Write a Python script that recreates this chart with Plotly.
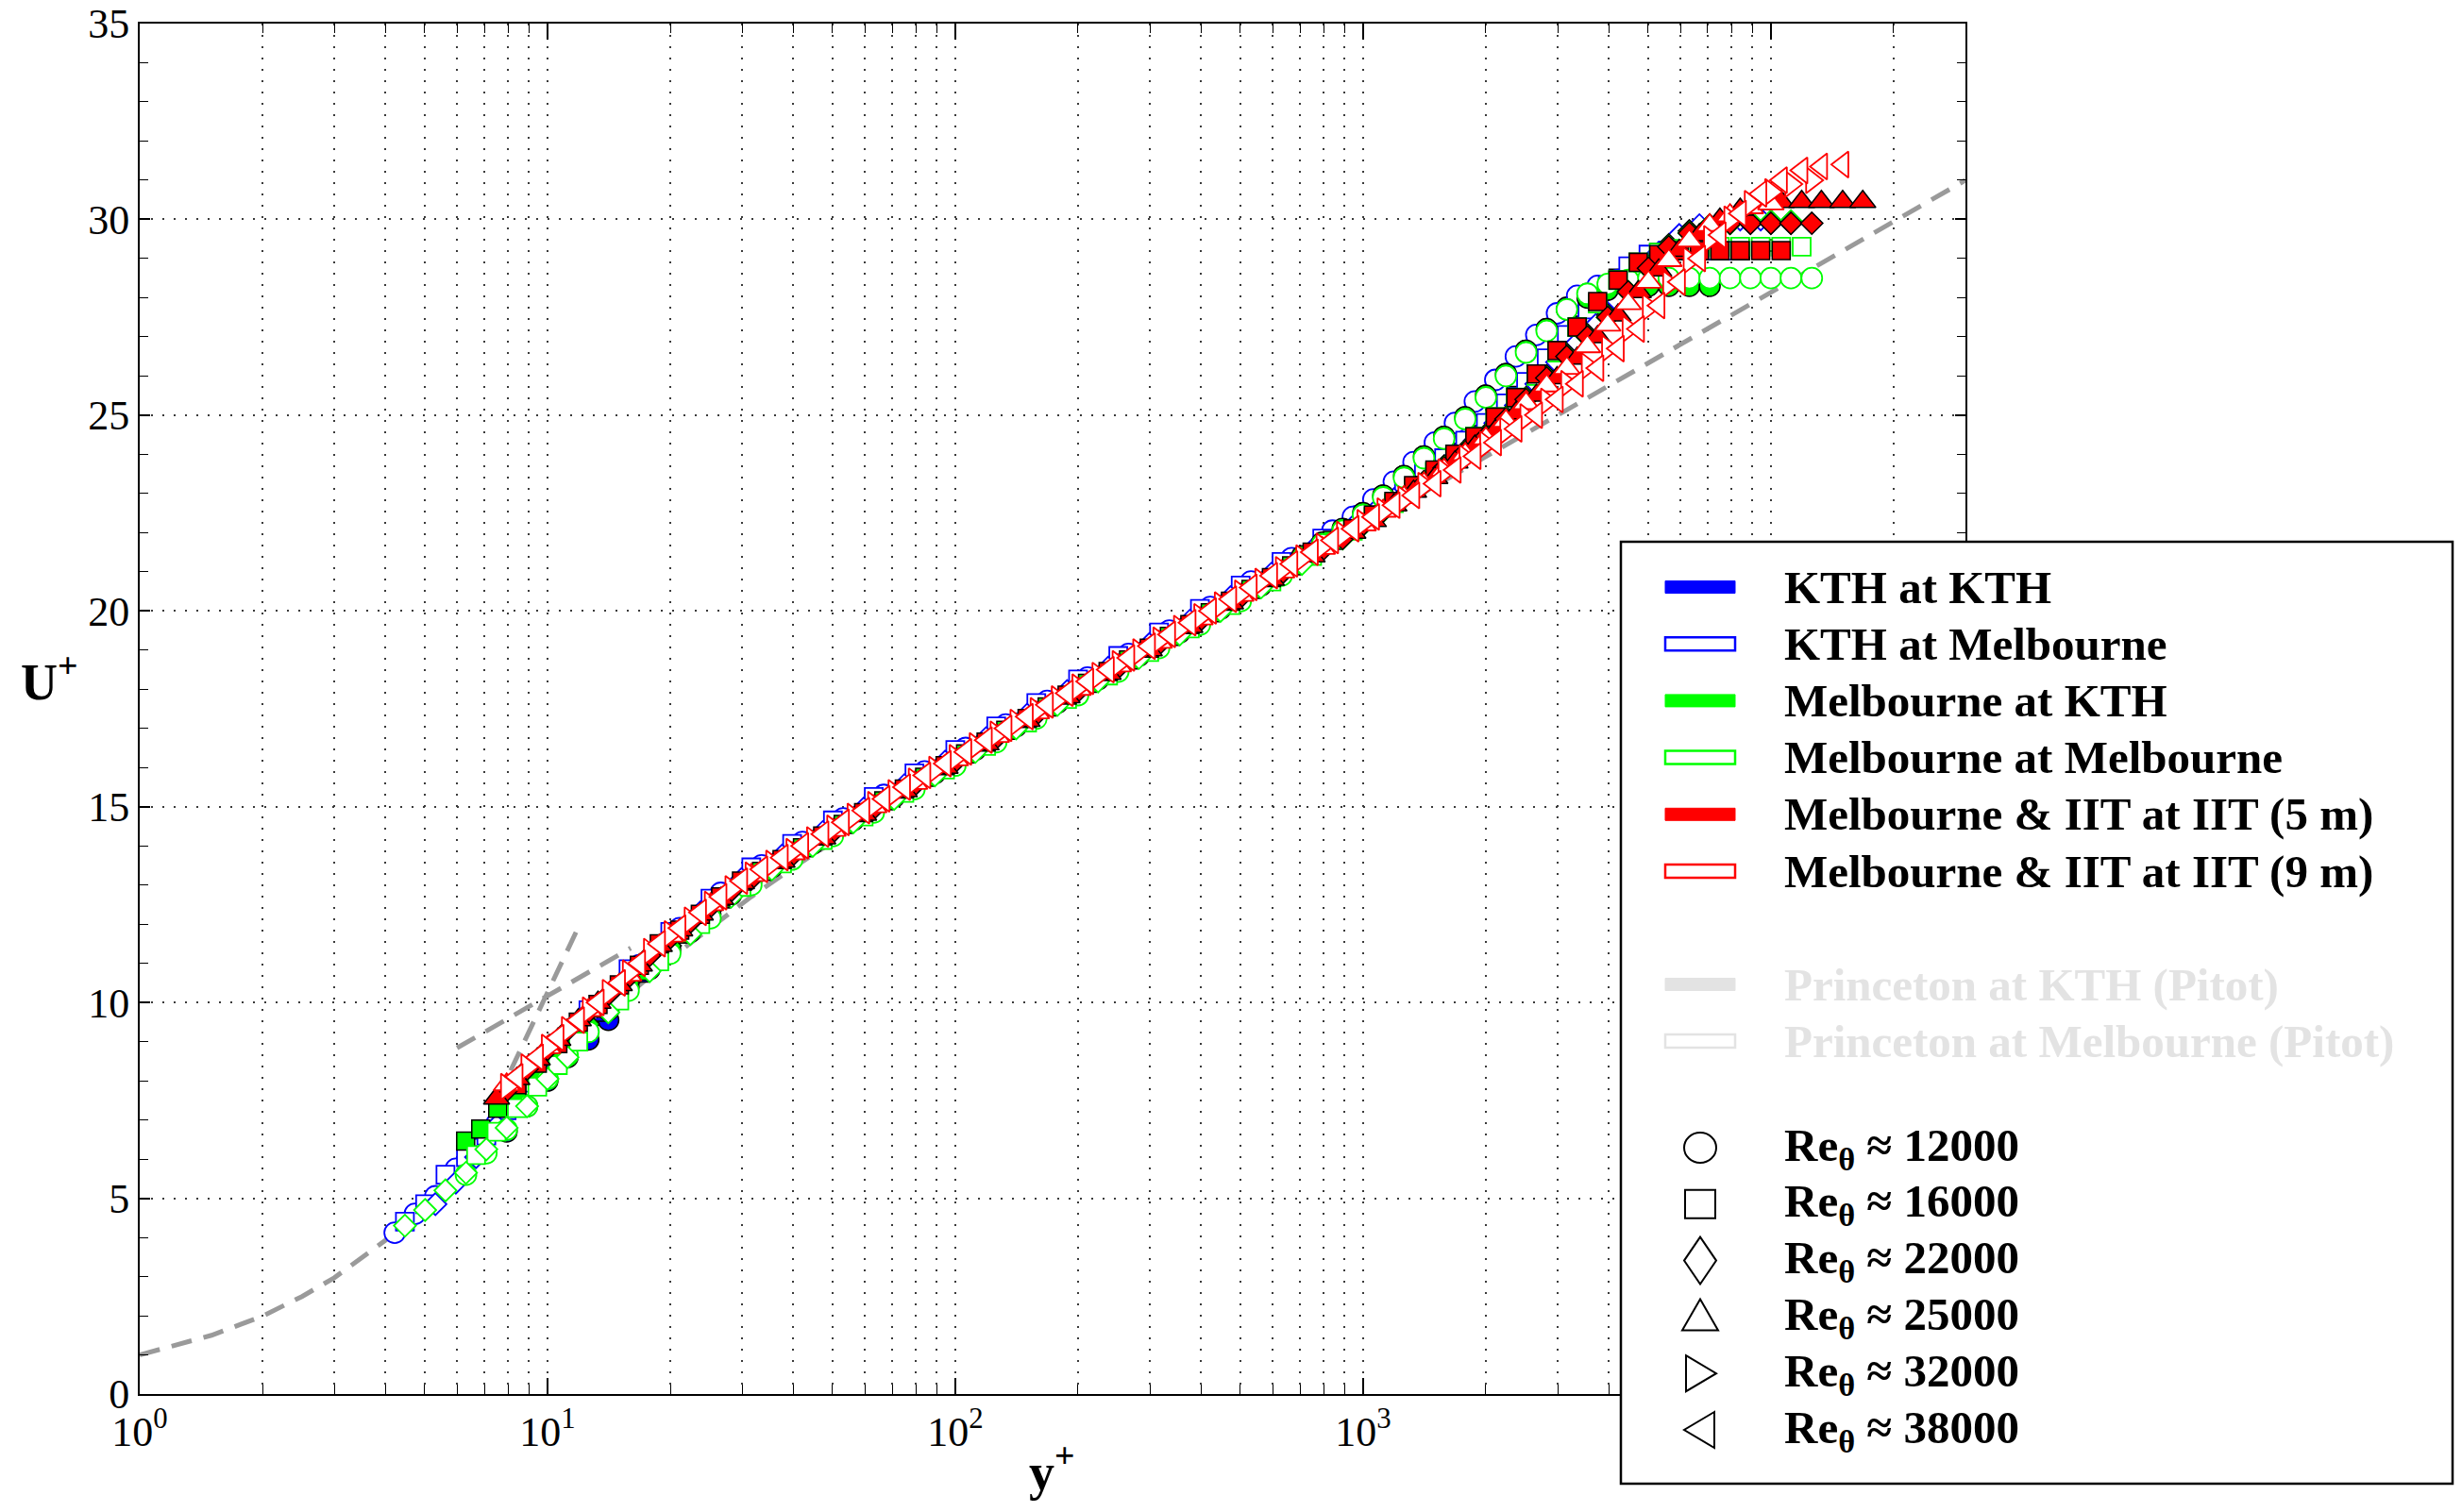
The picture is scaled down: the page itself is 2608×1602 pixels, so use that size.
import math
import plotly.graph_objects as go

# ---------------- reference curves ----------------
COMPOSITE_Y = [1, 1.5, 2, 2.5, 3, 4, 5, 6.3, 8, 10, 12.6, 15.8, 20, 25, 31.6, 40, 50, 63, 79, 100,
               200, 500, 1000, 3000, 10000, 30000]
COMPOSITE_U = [1.0, 1.5, 1.99, 2.49, 2.97, 3.92, 4.85, 5.92, 7.08, 8.1, 9.25, 10.2, 11.12, 11.9, 12.7,
               13.44, 14.11, 14.78, 15.42, 16.09, 17.94, 20.33, 22.14, 25.02, 28.15, 31.0]
SUBLAYER_Y = [7.5, 12.0]
SUBLAYER_U = [7.5, 12.0]
LOGLAW_Y = [6.0, 16.0]
LOGLAW_U = [8.84, 11.39]

# ---------------- measured profiles ----------------
# KTH at KTH (filled blue)
KK_CIRC_Y = [7.94, 10.0, 12.6, 14.1, 15.8, 20.0, 25.1, 31.6, 39.8, 50.1, 63.1, 79.4, 100, 126, 158, 200, 251,
             316, 398, 501, 631, 794, 1000, 1120, 1260, 1410, 1580, 1780, 2000, 2240, 2510, 2820, 3160, 3550, 3980]
KK_CIRC_U = [6.7, 8.0, 9.05, 9.55, 10.4, 11.35, 12.25, 13.1, 13.75, 14.35, 14.95, 15.55, 16.15, 16.75, 17.35,
             17.95, 18.55, 19.15, 19.75, 20.35, 21.05, 21.75, 22.5, 22.95, 23.45, 23.95, 24.45, 24.95, 25.5,
             26.05, 26.65, 27.2, 27.75, 28.1, 28.3]
KK_SQ_Y = [10.6, 13.3, 16.8, 21.1, 26.6, 33.5, 42.2, 53.1, 66.8, 84.1, 106, 133, 168, 211, 266, 335, 422, 531,
           668, 841, 1060, 1190, 1330, 1500, 1680, 1880, 2110, 2370, 2660, 2990, 3350, 3760, 4220, 4730, 5310,
           5960, 6680, 7500, 8410]
KK_SQ_U = [8.6, 9.75, 10.75, 11.75, 12.65, 13.4, 14.0, 14.6, 15.2, 15.8, 16.4, 17.0, 17.6, 18.2, 18.8, 19.4,
           20.0, 20.6, 21.2, 21.85, 22.5, 22.85, 23.2, 23.6, 24.05, 24.5, 24.95, 25.5, 26.05, 26.65, 27.3, 27.9,
           28.5, 28.9, 29.15, 29.2, 29.2, 29.2, 29.2]
KK_DIA_Y = [11.2, 14.1, 17.8, 22.4, 28.2, 35.5, 44.7, 56.2, 70.8, 89.1, 112, 141, 178, 224, 282, 355, 447, 562,
            708, 891, 1120, 1260, 1410, 1580, 1780, 2000, 2240, 2510, 2820, 3160, 3550, 3980, 4470, 5010, 5620,
            6310, 7080, 7940, 8910, 10000, 11200]
KK_DIA_U = [8.9, 10.0, 11.0, 11.9, 12.85, 13.5, 14.1, 14.7, 15.3, 15.9, 16.5, 17.1, 17.7, 18.3, 18.9, 19.5,
            20.1, 20.7, 21.3, 21.9, 22.6, 22.95, 23.3, 23.7, 24.1, 24.5, 24.95, 25.45, 26.0, 26.55, 27.05, 27.55,
            28.2, 28.8, 29.35, 29.7, 29.85, 29.9, 29.95, 29.95, 29.95]

# KTH at Melbourne (open blue)
KM_CIRC_Y = [4.22, 4.73, 5.31, 5.96, 6.68, 7.50, 8.41, 9.44, 10.6, 13.3, 16.8, 21.1, 26.6, 33.5, 42.2, 53.1,
             66.8, 84.1, 106, 133, 168, 211, 266, 335, 422, 531, 668, 841, 944, 1060, 1190, 1330, 1500, 1680,
             1880, 2110, 2370, 2660, 2990, 3350, 3760, 4220, 4730]
KM_CIRC_U = [4.12, 4.6, 5.05, 5.75, 6.25, 6.9, 7.5, 8.1, 8.7, 9.85, 10.95, 11.9, 12.8, 13.5, 14.1, 14.7, 15.3,
             15.9, 16.5, 17.1, 17.7, 18.3, 18.9, 19.5, 20.1, 20.75, 21.35, 22.05, 22.4, 22.85, 23.3, 23.8, 24.3,
             24.8, 25.35, 25.9, 26.5, 27.05, 27.6, 28.05, 28.3, 28.45, 28.5]
KM_SQ_Y = [4.47, 5.01, 5.62, 6.31, 7.08, 7.94, 8.91, 10.0, 12.6, 15.8, 20.0, 25.1, 31.6, 39.8, 50.1, 63.1, 79.4,
           100, 126, 158, 200, 251, 316, 398, 501, 631, 794, 1000, 1120, 1260, 1410, 1580, 1780, 2000, 2240,
           2510, 2820, 3160, 3550, 3980, 4470, 5010, 5620, 6310, 7080, 7940]
KM_SQ_U = [4.4, 4.85, 5.6, 6.05, 6.6, 7.25, 7.95, 8.6, 9.8, 10.85, 11.8, 12.65, 13.45, 14.05, 14.65, 15.25,
           15.85, 16.45, 17.05, 17.65, 18.25, 18.85, 19.45, 20.05, 20.65, 21.25, 21.85, 22.45, 22.75, 23.1, 23.5,
           23.9, 24.35, 24.8, 25.3, 25.85, 26.45, 27.05, 27.7, 28.3, 28.8, 29.1, 29.2, 29.2, 29.2, 29.2]
KM_DIA_Y = [5.31, 5.96, 6.68, 7.50, 8.41, 9.44, 11.9, 15.0, 18.8, 23.7, 29.9, 37.6, 47.3, 59.6, 75.0, 94.4, 119,
            150, 188, 237, 299, 376, 473, 596, 750, 944, 1060, 1190, 1330, 1500, 1680, 1880, 2110, 2370, 2660,
            2990, 3350, 3760, 4220, 4730, 5310, 5960, 6680, 7500, 8410, 9440]
KM_DIA_U = [4.85, 5.4, 6.05, 6.85, 7.45, 8.05, 9.2, 10.35, 11.35, 12.3, 13.15, 13.75, 14.35, 14.95, 15.55,
            16.15, 16.75, 17.35, 17.95, 18.55, 19.15, 19.75, 20.35, 20.95, 21.55, 22.15, 22.5, 22.85, 23.2,
            23.55, 23.95, 24.35, 24.8, 25.25, 25.8, 26.35, 26.85, 27.35, 27.9, 28.55, 29.15, 29.6, 29.85, 29.95,
            30.0, 30.0]

# Melbourne at KTH (filled green)
MK_CIRC_Y = [8.91, 11.2, 14.1, 17.8, 22.4, 28.2, 35.5, 44.7, 56.2, 70.8, 89.1, 112, 141, 178, 224, 282, 355,
             447, 562, 708, 794, 891, 1000, 1120, 1260, 1410, 1580, 1780, 2000, 2240, 2510, 2820, 3160, 3550,
             3980, 4470, 5010, 5620, 6310, 7080]
MK_CIRC_U = [7.35, 8.6, 9.8, 10.85, 11.8, 12.75, 13.45, 14.05, 14.65, 15.25, 15.85, 16.45, 17.05, 17.65, 18.25,
             18.85, 19.45, 20.05, 20.65, 21.4, 21.75, 22.1, 22.5, 22.95, 23.45, 23.95, 24.45, 24.95, 25.5, 26.05,
             26.65, 27.2, 27.7, 28.0, 28.2, 28.3, 28.3, 28.3, 28.3, 28.3]
MK_SQ_Y = [6.30, 6.86, 7.55, 8.41, 9.44, 10.6, 13.3, 16.8, 21.1, 26.6, 33.5, 42.2, 53.1, 66.8, 84.1, 106, 133,
           168, 211, 266, 335, 422, 531, 668, 841, 1060, 1190, 1330, 1500, 1680, 1880, 2110, 2370, 2660, 2990,
           3350, 3760, 4220, 4730, 5310, 5960, 6680, 7500, 8410]
MK_SQ_U = [6.46, 6.77, 7.3, 7.75, 8.25, 8.75, 9.85, 10.8, 11.75, 12.65, 13.35, 13.95, 14.55, 15.15, 15.75,
           16.35, 16.95, 17.55, 18.15, 18.75, 19.35, 19.95, 20.55, 21.15, 21.8, 22.45, 22.8, 23.2, 23.6, 24.0,
           24.45, 24.95, 25.45, 26.05, 26.65, 27.25, 27.9, 28.45, 28.9, 29.15, 29.2, 29.2, 29.2, 29.2]
MK_DIA_Y = [12.6, 15.8, 20.0, 25.1, 31.6, 39.8, 50.1, 63.1, 79.4, 100, 126, 158, 200, 251, 316, 398, 501, 631,
            794, 1000, 1120, 1260, 1410, 1580, 1780, 2000, 2240, 2510, 2820, 3160, 3550, 3980, 4470, 5010, 5620,
            6310, 7080, 7940, 8910, 10000, 11200]
MK_DIA_U = [9.45, 10.5, 11.45, 12.35, 13.2, 13.8, 14.4, 15.0, 15.6, 16.2, 16.8, 17.4, 18.0, 18.6, 19.2, 19.8,
            20.4, 21.0, 21.6, 22.25, 22.6, 22.95, 23.3, 23.7, 24.1, 24.5, 24.95, 25.45, 26.0, 26.55, 27.05, 27.55,
            28.2, 28.8, 29.35, 29.7, 29.85, 29.9, 29.9, 29.9, 29.9]

# Melbourne at Melbourne (open green)
MM_CIRC_Y = [6.31, 7.08, 7.94, 8.91, 10.0, 11.2, 12.6, 15.8, 20.0, 25.1, 31.6, 39.8, 50.1, 63.1, 79.4, 100, 126,
             158, 200, 251, 316, 398, 501, 631, 708, 794, 891, 1000, 1120, 1260, 1410, 1580, 1780, 2000, 2240,
             2510, 2820, 3160, 3550, 3980, 4470, 5010, 5620, 6310, 7080, 7940, 8910, 10000, 11200, 12600]
MM_CIRC_U = [5.6, 6.15, 6.75, 7.35, 8.05, 8.65, 9.25, 10.3, 11.25, 12.15, 13.0, 13.65, 14.25, 14.85, 15.45,
             16.05, 16.65, 17.25, 17.85, 18.45, 19.05, 19.65, 20.25, 20.9, 21.3, 21.7, 22.05, 22.45, 22.9, 23.4,
             23.9, 24.4, 24.9, 25.45, 26.0, 26.6, 27.15, 27.7, 28.1, 28.35, 28.45, 28.5, 28.5, 28.5, 28.5, 28.5,
             28.5, 28.5, 28.5, 28.5]
MM_SQ_Y = [6.68, 7.50, 8.41, 9.44, 10.6, 11.9, 15.0, 18.8, 23.7, 29.9, 37.6, 47.3, 59.6, 75.0, 94.4, 119, 150,
           188, 237, 299, 376, 473, 596, 750, 944, 1060, 1190, 1330, 1500, 1680, 1880, 2110, 2370, 2660, 2990,
           3350, 3760, 4220, 4730, 5310, 5960, 6680, 7500, 8410, 9440, 10600, 11900]
MM_SQ_U = [6.1, 6.7, 7.3, 7.85, 8.4, 9.0, 10.05, 11.05, 12.0, 12.95, 13.55, 14.15, 14.75, 15.35, 15.95, 16.55,
           17.15, 17.75, 18.35, 18.95, 19.55, 20.15, 20.75, 21.4, 22.05, 22.4, 22.75, 23.15, 23.55, 24.0, 24.45,
           24.95, 25.45, 26.0, 26.6, 27.25, 27.85, 28.45, 28.9, 29.15, 29.25, 29.3, 29.3, 29.3, 29.3, 29.3, 29.3]
MM_DIA_Y = [4.47, 5.01, 5.62, 6.31, 7.08, 7.94, 8.91, 10.0, 11.2, 14.1, 17.8, 22.4, 28.2, 35.5, 44.7, 56.2, 70.8,
            89.1, 112, 141, 178, 224, 282, 355, 447, 562, 708, 891, 1000, 1120, 1260, 1410, 1580, 1780, 2000,
            2240, 2510, 2820, 3160, 3550, 3980, 4470, 5010, 5620, 6310, 7080, 7940, 8910, 10000, 11200]
MM_DIA_U = [4.3, 4.7, 5.2, 5.65, 6.25, 6.8, 7.35, 8.05, 8.6, 9.75, 10.8, 11.75, 12.7, 13.4, 14.0, 14.6, 15.2,
            15.8, 16.4, 17.0, 17.6, 18.2, 18.8, 19.4, 20.0, 20.6, 21.2, 21.85, 22.2, 22.55, 22.9, 23.25, 23.65,
            24.05, 24.45, 24.9, 25.4, 25.95, 26.5, 27.0, 27.5, 28.15, 28.75, 29.3, 29.65, 29.85, 29.9, 29.95,
            29.95, 29.95]

# Melbourne & IIT at IIT, 5 m (filled red)
I5_SQ_Y = [8.41, 9.44, 10.6, 11.9, 13.3, 15.0, 16.8, 18.8, 21.1, 23.7, 26.6, 29.9, 37.6, 47.3, 59.6, 75.0, 94.4,
           119, 150, 188, 237, 299, 376, 473, 596, 750, 944, 1060, 1190, 1330, 1500, 1680, 1880, 2110, 2370,
           2660, 2990, 3350, 3760, 4220, 4730, 5310, 5960, 6680, 7500, 8410, 9440, 10600]
I5_SQ_U = [7.9, 8.45, 8.95, 9.5, 9.95, 10.45, 10.95, 11.5, 11.85, 12.25, 12.7, 13.1, 13.65, 14.25, 14.85, 15.45,
           16.05, 16.65, 17.25, 17.85, 18.45, 19.05, 19.65, 20.25, 20.85, 21.5, 22.1, 22.45, 22.8, 23.2, 23.6,
           24.0, 24.45, 24.95, 25.45, 26.05, 26.65, 27.25, 27.9, 28.45, 28.9, 29.1, 29.2, 29.2, 29.2, 29.2, 29.2,
           29.2]
I5_DIA_Y = [7.94, 8.91, 10.0, 11.2, 12.6, 14.1, 15.8, 17.8, 20.0, 22.4, 25.1, 28.2, 31.6, 39.8, 50.1, 63.1, 79.4,
            100, 126, 158, 200, 251, 316, 398, 501, 631, 794, 891, 1000, 1120, 1260, 1410, 1580, 1780, 2000, 2240,
            2510, 2820, 3160, 3550, 3980, 4470, 5010, 5620, 6310, 7080, 7940, 8910, 10000, 11200, 12600]
I5_DIA_U = [7.75, 8.3, 8.8, 9.3, 9.75, 10.2, 10.65, 11.2, 11.65, 12.05, 12.45, 12.85, 13.15, 13.75, 14.35, 14.95,
            15.55, 16.15, 16.75, 17.35, 17.95, 18.55, 19.15, 19.75, 20.35, 20.95, 21.55, 21.85, 22.2, 22.55, 22.9,
            23.25, 23.65, 24.05, 24.45, 24.9, 25.4, 25.95, 26.5, 27.0, 27.5, 28.15, 28.75, 29.3, 29.65, 29.85,
            29.9, 29.9, 29.9, 29.9, 29.9]
I5_TRI_Y = [7.50, 8.41, 9.44, 10.6, 11.9, 13.3, 15.0, 16.8, 18.8, 21.1, 23.7, 26.6, 29.9, 37.6, 47.3, 59.6, 75.0,
            94.4, 119, 150, 188, 237, 299, 376, 473, 596, 750, 944, 1060, 1190, 1330, 1500, 1680, 1880, 2110,
            2370, 2660, 2990, 3350, 3760, 4220, 4730, 5310, 5960, 6680, 7500, 8410, 9440, 10600, 11900, 13300,
            15000, 16800]
I5_TRI_U = [7.55, 8.05, 8.55, 9.05, 9.55, 10.0, 10.45, 10.95, 11.45, 11.85, 12.25, 12.65, 13.05, 13.6, 14.2,
            14.8, 15.4, 16.0, 16.6, 17.2, 17.8, 18.4, 19.0, 19.6, 20.2, 20.8, 21.4, 22.0, 22.3, 22.7, 23.05, 23.4,
            23.8, 24.2, 24.6, 25.05, 25.5, 25.95, 26.45, 27.0, 27.55, 28.15, 28.7, 29.2, 29.6, 30.0, 30.25, 30.4,
            30.45, 30.45, 30.45, 30.45, 30.45]

# Melbourne & IIT at IIT, 9 m (open red)
I9_TRI_Y = [7.94, 10.0, 12.6, 15.8, 20.0, 25.1, 31.6, 39.8, 50.1, 63.1, 79.4, 100, 126, 158, 200, 251, 316, 398,
            501, 631, 794, 1000, 1120, 1260, 1410, 1580, 1780, 2000, 2240, 2510, 2820, 3160, 3550, 3980, 4470,
            5010, 5620, 6310, 7080, 7940, 8910, 10000]
I9_TRI_U = [7.9, 8.85, 9.8, 10.7, 11.7, 12.5, 13.25, 13.8, 14.4, 15.0, 15.6, 16.2, 16.8, 17.4, 18.0, 18.6, 19.2,
            19.8, 20.4, 21.0, 21.6, 22.2, 22.55, 22.9, 23.25, 23.6, 24.0, 24.4, 24.85, 25.3, 25.75, 26.2, 26.75,
            27.3, 27.85, 28.4, 28.95, 29.45, 29.85, 30.1, 30.3, 30.4]
I9_RT_Y = [7.94, 8.91, 10.0, 11.2, 12.6, 14.1, 15.8, 17.8, 20.0, 22.4, 25.1, 28.2, 31.6, 35.5, 39.8, 44.7, 50.1,
           56.2, 63.1, 70.8, 79.4, 89.1, 100, 112, 126, 141, 158, 178, 200, 224, 251, 282, 316, 355, 398, 447,
           501, 562, 631, 708, 794, 891, 1000, 1120, 1260, 1410, 1580, 1780, 2000, 2240, 2510, 2820, 3160, 3550,
           3980, 4470, 5010, 5620, 6310, 7080, 7940, 8910, 10000, 11200, 12600]
I9_RT_U = [7.85, 8.35, 8.85, 9.3, 9.8, 10.25, 10.75, 11.3, 11.75, 12.1, 12.5, 12.9, 13.25, 13.55, 13.85, 14.15,
           14.45, 14.75, 15.05, 15.35, 15.65, 15.95, 16.25, 16.55, 16.85, 17.15, 17.45, 17.75, 18.05, 18.35,
           18.65, 18.95, 19.25, 19.55, 19.85, 20.15, 20.45, 20.75, 21.05, 21.35, 21.65, 21.95, 22.25, 22.55,
           22.85, 23.2, 23.55, 23.9, 24.25, 24.6, 24.95, 25.35, 25.8, 26.25, 26.7, 27.2, 27.75, 28.35, 28.95,
           29.5, 30.0, 30.4, 30.7, 30.9, 31.0]
I9_LT_Y = [8.41, 9.44, 10.6, 11.9, 13.3, 15.0, 16.8, 18.8, 21.1, 23.7, 26.6, 29.9, 33.5, 37.6, 42.2, 47.3, 53.1,
           59.6, 66.8, 75.0, 84.1, 94.4, 106, 119, 133, 150, 168, 188, 211, 237, 266, 299, 335, 376, 422, 473,
           531, 596, 668, 750, 841, 944, 1060, 1190, 1330, 1500, 1680, 1880, 2110, 2370, 2660, 2990, 3350, 3760,
           4220, 4730, 5310, 5960, 6680, 7500, 8410, 9440, 10600, 11900, 13300, 15000]
I9_LT_U = [8.1, 8.6, 9.1, 9.55, 10.0, 10.5, 11.0, 11.5, 11.9, 12.3, 12.7, 13.1, 13.4, 13.7, 14.0, 14.3, 14.6,
           14.9, 15.2, 15.5, 15.8, 16.1, 16.4, 16.7, 17.0, 17.3, 17.6, 17.9, 18.2, 18.5, 18.8, 19.1, 19.4, 19.7,
           20.0, 20.3, 20.6, 20.9, 21.2, 21.5, 21.8, 22.1, 22.4, 22.7, 22.95, 23.25, 23.6, 23.95, 24.3, 24.65,
           25.0, 25.4, 25.8, 26.2, 26.7, 27.2, 27.8, 28.4, 29.0, 29.6, 30.15, 30.65, 31.0, 31.25, 31.35, 31.4]

# ---------------- legend / tick text ----------------
LEGEND_LABELS = ["KTH at KTH", "KTH at Melbourne", "Melbourne at KTH", "Melbourne at Melbourne",
                 "Melbourne & IIT at IIT (5 m)", "Melbourne & IIT at IIT (9 m)"]
GHOST_LABELS = ["Princeton at KTH (Pitot)", "Princeton at Melbourne (Pitot)"]
RE_LABELS = ["12000", "16000", "22000", "25000", "32000", "38000"]
X_TICKS = [1, 10, 100, 1000, 10000]
X_TICKTEXT = ["10<sup>0</sup>", "10<sup>1</sup>", "10<sup>2</sup>", "10<sup>3</sup>", ""]
X_MINOR = [m * 10 ** d for d in range(0, 5) for m in range(2, 10) if m * 10 ** d <= 30000]

# ---------------- styling ----------------
BLUE, GREEN, RED = "#0000ff", "#00ff00", "#ff0000"
GHOST = "#e3e3e3"
DASH_GREY = "#9a9a9a"
SERIF = "Liberation Serif"
SIZES = {"circle": 22, "square": 19, "diamond": 18, "triangle-up": 24, "triangle-right": 24, "triangle-left": 24}

SERIES = [
    (KK_CIRC_Y, KK_CIRC_U, "circle", BLUE, True),
    (KK_SQ_Y, KK_SQ_U, "square", BLUE, True),
    (KK_DIA_Y, KK_DIA_U, "diamond", BLUE, True),
    (KM_CIRC_Y, KM_CIRC_U, "circle", BLUE, False),
    (KM_SQ_Y, KM_SQ_U, "square", BLUE, False),
    (KM_DIA_Y, KM_DIA_U, "diamond", BLUE, False),
    (MK_CIRC_Y, MK_CIRC_U, "circle", GREEN, True),
    (MK_SQ_Y, MK_SQ_U, "square", GREEN, True),
    (MK_DIA_Y, MK_DIA_U, "diamond", GREEN, True),
    (MM_CIRC_Y, MM_CIRC_U, "circle", GREEN, False),
    (MM_SQ_Y, MM_SQ_U, "square", GREEN, False),
    (MM_DIA_Y, MM_DIA_U, "diamond", GREEN, False),
    (I5_SQ_Y, I5_SQ_U, "square", RED, True),
    (I5_DIA_Y, I5_DIA_U, "diamond", RED, True),
    (I5_TRI_Y, I5_TRI_U, "triangle-up", RED, True),
    (I9_TRI_Y, I9_TRI_U, "triangle-up", RED, False),
    (I9_RT_Y, I9_RT_U, "triangle-right", RED, False),
    (I9_LT_Y, I9_LT_U, "triangle-left", RED, False),
]

# plot-area geometry in pixels
FIG_W, FIG_H = 2608, 1602
PL, PR, PT, PB = 148, 2082, 25, 1477


def X(p):
    return (p - PL) / (PR - PL)


def Y(p):
    return (PB - p) / (PB - PT)


fig = go.Figure()

dash_line = dict(color=DASH_GREY, width=5, dash="22px,13px")
for ys, us in [(COMPOSITE_Y, COMPOSITE_U), (SUBLAYER_Y, SUBLAYER_U), (LOGLAW_Y, LOGLAW_U)]:
    fig.add_trace(go.Scatter(x=ys, y=us, mode="lines", line=dash_line, hoverinfo="skip"))

for ys, us, sym, col, filled in SERIES:
    assert len(ys) == len(us), (sym, col, len(ys), len(us))
    if filled:
        mk = dict(symbol=sym, size=SIZES[sym], color=col, line=dict(color="black", width=1.5))
    else:
        mk = dict(symbol=sym, size=SIZES[sym], color="white", line=dict(color=col, width=1.8))
    fig.add_trace(go.Scatter(x=ys, y=us, mode="markers", marker=mk))

grid_common = dict(gridcolor="#3a3a3a", gridwidth=1.5, griddash="2px,10px")

fig.update_layout(
    width=FIG_W, height=FIG_H,
    margin=dict(l=PL, r=FIG_W - PR, t=PT, b=FIG_H - PB, pad=0, autoexpand=False),
    paper_bgcolor="white", plot_bgcolor="white",
    showlegend=False,
    font=dict(family=SERIF, color="black", size=44),
    xaxis=dict(
        type="log", range=[0, math.log10(30000)], automargin=False,
        showline=True, linecolor="black", linewidth=2, mirror="ticks",
        ticks="inside", ticklen=17, tickwidth=1.5, tickcolor="black",
        tickmode="array", tickvals=X_TICKS, ticktext=X_TICKTEXT,
        tickfont=dict(family=SERIF, size=44, color="black"),
        showgrid=True, zeroline=False, **grid_common,
        minor=dict(tickmode="array", tickvals=X_MINOR, ticks="inside", ticklen=10, tickwidth=1.2,
                   tickcolor="black", showgrid=True, **grid_common),
    ),
    yaxis=dict(
        range=[0, 35], tickmode="linear", tick0=0, dtick=5, automargin=False,
        showline=True, linecolor="black", linewidth=2, mirror="ticks",
        ticks="inside", ticklen=11, tickwidth=1.5, tickcolor="black",
        tickfont=dict(family=SERIF, size=44, color="black"),
        showgrid=True, zeroline=False, **grid_common,
        minor=dict(dtick=1, ticks="inside", ticklen=9, tickwidth=1.2, tickcolor="black", showgrid=False),
    ),
)

# axis titles
fig.add_annotation(text="<b>U<sup>+</sup></b>", x=X(52), y=Y(718), xref="paper", yref="paper",
                   xanchor="center", yanchor="middle",
                   showarrow=False, font=dict(family=SERIF, size=54, color="black"))
fig.add_annotation(text="<b>y<sup>+</sup></b>", x=X(1114), y=Y(1556), xref="paper", yref="paper",
                   xanchor="center", yanchor="middle",
                   showarrow=False, font=dict(family=SERIF, size=54, color="black"))

# ---------------- legend panel ----------------
shapes = [dict(type="rect", xref="paper", yref="paper", x0=X(1717), x1=X(2598), y0=Y(1572), y1=Y(574),
               fillcolor="white", line=dict(color="black", width=2.5), layer="above")]

bar_x0, bar_x1, text_x = 1764, 1838, 1888
row_cols = [(BLUE, True), (BLUE, False), (GREEN, True), (GREEN, False), (RED, True), (RED, False)]
for i, (lab, (col, filled)) in enumerate(zip(LEGEND_LABELS, row_cols)):
    yc = 622 + 60.2 * i
    if filled:
        shapes.append(dict(type="rect", xref="paper", yref="paper", x0=X(bar_x0), x1=X(bar_x1),
                           y0=Y(yc + 6.5), y1=Y(yc - 6.5), fillcolor=col, line=dict(color=col, width=1),
                           layer="above"))
    else:
        shapes.append(dict(type="rect", xref="paper", yref="paper", x0=X(bar_x0), x1=X(bar_x1),
                           y0=Y(yc + 7), y1=Y(yc - 7), fillcolor="white", line=dict(color=col, width=2.5),
                           layer="above"))
    fig.add_annotation(text="<b>" + lab + "</b>", x=X(text_x), y=Y(yc), xref="paper", yref="paper",
                       xanchor="left", yanchor="middle", showarrow=False,
                       font=dict(family=SERIF, size=49, color="black"))

for i, lab in enumerate(GHOST_LABELS):
    yc = 1043 + 60 * i
    if i == 0:
        shapes.append(dict(type="rect", xref="paper", yref="paper", x0=X(bar_x0), x1=X(bar_x1),
                           y0=Y(yc + 6.5), y1=Y(yc - 6.5), fillcolor=GHOST, line=dict(color=GHOST, width=1),
                           layer="above"))
    else:
        shapes.append(dict(type="rect", xref="paper", yref="paper", x0=X(bar_x0), x1=X(bar_x1),
                           y0=Y(yc + 7), y1=Y(yc - 7), fillcolor="white", line=dict(color=GHOST, width=2.5),
                           layer="above"))
    fig.add_annotation(text="<b>" + lab + "</b>", x=X(text_x), y=Y(yc), xref="paper", yref="paper",
                       xanchor="left", yanchor="middle", showarrow=False,
                       font=dict(family=SERIF, size=49, color=GHOST))


def poly(pts):
    return "M " + " L ".join(f"{X(a):.5f},{Y(b):.5f}" for a, b in pts) + " Z"


cx = 1801
sym_line = dict(color="black", width=2)
for i, lab in enumerate(RE_LABELS):
    yc = 1216 + 59.8 * i
    if i == 0:
        shapes.append(dict(type="circle", xref="paper", yref="paper", x0=X(cx - 17), x1=X(cx + 17),
                           y0=Y(yc + 16), y1=Y(yc - 16), line=sym_line, fillcolor="white", layer="above"))
    elif i == 1:
        shapes.append(dict(type="rect", xref="paper", yref="paper", x0=X(cx - 16), x1=X(cx + 16),
                           y0=Y(yc + 15), y1=Y(yc - 15), line=sym_line, fillcolor="white", layer="above"))
    elif i == 2:
        shapes.append(dict(type="path", xref="paper", yref="paper",
                           path=poly([(cx, yc - 25), (cx + 17, yc), (cx, yc + 25), (cx - 17, yc)]),
                           line=sym_line, fillcolor="white", layer="above"))
    elif i == 3:
        shapes.append(dict(type="path", xref="paper", yref="paper",
                           path=poly([(cx, yc - 19), (cx + 19, yc + 14), (cx - 19, yc + 14)]),
                           line=sym_line, fillcolor="white", layer="above"))
    elif i == 4:
        shapes.append(dict(type="path", xref="paper", yref="paper",
                           path=poly([(cx - 15, yc - 19), (cx + 17, yc), (cx - 15, yc + 19)]),
                           line=sym_line, fillcolor="white", layer="above"))
    else:
        shapes.append(dict(type="path", xref="paper", yref="paper",
                           path=poly([(cx + 15, yc - 19), (cx - 17, yc), (cx + 15, yc + 19)]),
                           line=sym_line, fillcolor="white", layer="above"))
    fig.add_annotation(text="<b>Re<sub>θ</sub> ≈ " + lab + "</b>", x=X(text_x), y=Y(yc), xref="paper",
                       yref="paper", xanchor="left", yanchor="middle", showarrow=False,
                       font=dict(family=SERIF, size=49, color="black"))

fig.update_layout(shapes=shapes)

fig.write_html("out.html", config={"displayModeBar": False},
               post_script="document.body.style.margin='0px';document.body.style.overflow='hidden';")
